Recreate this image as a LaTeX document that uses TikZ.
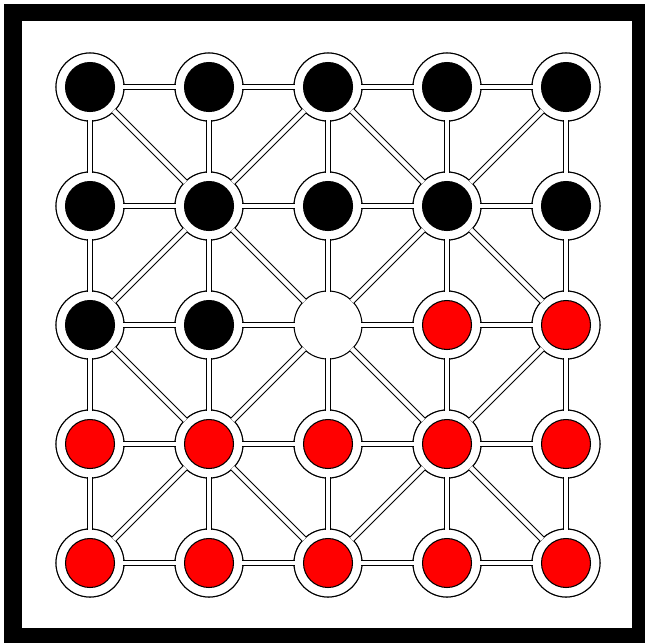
\documentclass[tikz,border=0pt]{standalone}
\usepackage{xcolor}
\usepackage{tikz}

\begin{document}
\begin{tikzpicture}[
	x=0.02cm, y=-0.02cm,
	spot/.style={circle,draw=black,line width=0.6pt,fill=white,minimum size=1.36cm,inner sep=0pt},
	piece/.style={path picture={\fill[#1,draw=black,line width=0.6pt] (path picture bounding box.center) circle (0.49cm);}},
	edge/.style={double=white,draw=black,line width=0.6pt,double distance=2.6pt,shorten <=-0.6pt,shorten >=-0.6pt}
]
	\useasboundingbox (0,0) rectangle (645,643);
	\fill[black] (4,4) rectangle (645,643);
	\fill[white] (22,21) rectangle (632,628);
	% points of the board
	\foreach \r in {0,...,4}
		\foreach \c in {0,...,4}
			\node[spot] (p\r\c) at (90+119*\c,87+119*\r) {};
	% pieces
	\foreach \r/\c in {0/0,0/1,0/2,0/3,0/4,1/0,1/1,1/2,1/3,1/4,2/0,2/1}
		\node[spot,piece=black] at (p\r\c) {};
	\foreach \r/\c in {2/3,2/4,3/0,3/1,3/2,3/3,3/4,4/0,4/1,4/2,4/3,4/4}
		\node[spot,piece=red] at (p\r\c) {};
	% lines
	\foreach \r in {0,...,4}
		\foreach \c/\d in {0/1,1/2,2/3,3/4} {
			\draw[edge] (p\r\c) -- (p\r\d);
			\draw[edge] (p\c\r) -- (p\d\r);
		}
	\foreach \a/\b in {00/11,11/22,22/33,33/44,04/13,13/22,22/31,31/40,02/11,11/20,02/13,13/24,20/31,31/42,24/33,33/42}
		\draw[edge] (p\a) -- (p\b);
\end{tikzpicture}
\end{document}
